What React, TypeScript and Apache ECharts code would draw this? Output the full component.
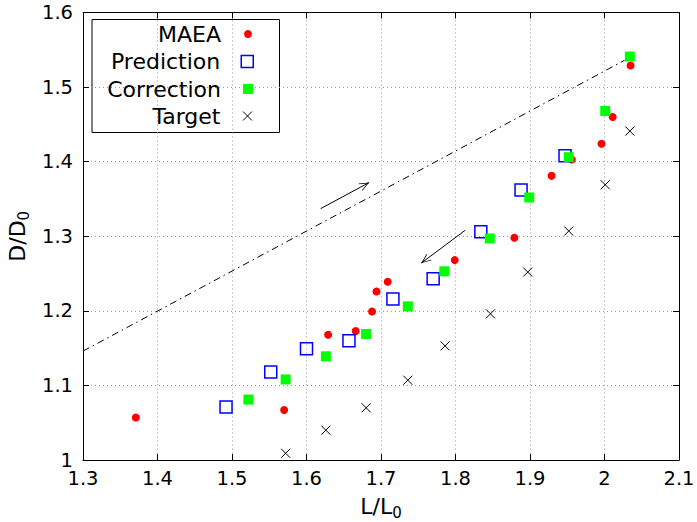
import React, { useEffect, useRef } from "react";
import * as echarts from "echarts";

const maeaX = [1.371, 1.570, 1.629, 1.666, 1.688, 1.694, 1.709, 1.799, 1.879, 1.929, 1.956, 1.996, 2.011, 2.035];
const maeaY = [1.057, 1.067, 1.168, 1.173, 1.199, 1.226, 1.239, 1.268, 1.298, 1.381, 1.403, 1.424, 1.460, 1.529];
const predX = [1.492, 1.552, 1.600, 1.657, 1.716, 1.770, 1.834, 1.888, 1.947];
const predY = [1.071, 1.118, 1.149, 1.160, 1.216, 1.243, 1.306, 1.362, 1.408];
const corrX = [1.522, 1.572, 1.626, 1.680, 1.736, 1.785, 1.846, 1.899, 1.952, 2.001, 2.034];
const corrY = [1.081, 1.108, 1.139, 1.169, 1.206, 1.253, 1.297, 1.352, 1.406, 1.468, 1.541];
const targX = [1.572, 1.626, 1.680, 1.736, 1.786, 1.847, 1.897, 1.952, 2.001, 2.034];
const targY = [1.009, 1.040, 1.070, 1.107, 1.153, 1.196, 1.252, 1.307, 1.369, 1.441];
const guideX = [1.3, 2.027];
const guideY = [1.146, 1.536];
const arrowUpFrom = [1.619, 1.337];
const arrowUpTo = [1.684, 1.372];
const arrowDownFrom = [1.813, 1.308];
const arrowDownTo = [1.754, 1.264];
const xRange = { min: 1.3, max: 2.1, interval: 0.1 };
const yRange = { min: 1.0, max: 1.6, interval: 0.1 };
const seriesNames = ["MAEA", "Prediction", "Correction", "Target"];

const zip = (xs: number[], ys: number[]) => xs.map((x, i) => [x, ys[i]]);

const FONT = "DejaVu Sans";
const CROSS = "path://M0,0L10,10M10,0L0,10";
const CHEVRON = "path://M5,0M5,10L9.4,19.5L8.7,20L5,12L1.3,20L0.6,19.5Z";

export default function App() {
  const ref = useRef<HTMLDivElement>(null);
  useEffect(() => {
    if (!ref.current) return;
    const chart = echarts.init(ref.current, undefined, { renderer: "svg" });
    const fmt = (v: number) => String(+v.toFixed(1));
    const sizes = [8, 12, 10, 9];
    const rowCenters = [34, 61.5, 89, 116];
    const iconCx = 248;
    const textEnd = 221;
    const legendStyles: any[] = [
      { color: "#ff0000" },
      { color: "rgba(0,0,0,0)", borderColor: "#0000ff", borderWidth: 1.5 },
      { color: "#00ff00" },
      { color: "rgba(0,0,0,0)", borderColor: "#000000", borderWidth: 1 },
    ];
    const legendIcons = ["circle", "rect", "rect", CROSS];
    const legends = seriesNames.map((n, i) => {
      const s = sizes[i];
      return {
        data: [{ name: n, icon: legendIcons[i], itemStyle: legendStyles[i] }],
        orient: "vertical",
        align: "right",
        right: 697 - (iconCx + s / 2),
        top: rowCenters[i] - 13,
        itemWidth: s,
        itemHeight: s,
        padding: 0,
        selectedMode: false,
        textStyle: {
          fontFamily: FONT,
          fontSize: 22,
          lineHeight: 26,
          color: "#000",
          padding: [0, iconCx - s / 2 - 5 - textEnd, 0, 0],
        },
      };
    });

    const axisCommon = {
      type: "value",
      axisLine: { show: true, lineStyle: { color: "#000", width: 1 } },
      axisTick: { show: true, inside: true, length: 6, lineStyle: { color: "#000" } },
    };

    const nameStyle = {
      fontFamily: FONT,
      fontSize: 22,
      color: "#000",
      rich: { sub: { fontSize: 15, fontFamily: FONT, color: "#000", padding: [13, 0, 0, 0] } },
    };

    chart.setOption({
      animation: false,
      backgroundColor: "#fff",
      textStyle: { fontFamily: FONT },
      grid: { left: 83, right: 18, top: 12.5, bottom: 62, containLabel: false, outerBoundsMode: "none" },
      legend: legends,
      graphic: [
        {
          type: "rect",
          shape: { x: 92, y: 19.5, width: 187.5, height: 113 },
          style: { fill: "#fff", stroke: "#000", lineWidth: 1 },
          z: 0,
          zlevel: 0,
        },
      ],
      xAxis: [
        {
          ...axisCommon,
          position: "bottom",
          ...xRange,
          axisLabel: { fontFamily: FONT, fontSize: 19.5, color: "#000", margin: 8, formatter: fmt },
          splitLine: { show: true, lineStyle: { color: "#999", type: [1, 3], width: 1 } },
          name: "L/L{sub|0}",
          nameLocation: "middle",
          nameGap: 32,
          nameTextStyle: nameStyle,
        },
        {
          ...axisCommon,
          position: "top",
          ...xRange,
          axisLabel: { show: false },
          splitLine: { show: false },
        },
      ],
      yAxis: [
        {
          ...axisCommon,
          position: "left",
          ...yRange,
          axisLabel: { fontFamily: FONT, fontSize: 19.5, color: "#000", margin: 10, formatter: fmt },
          splitLine: { show: true, lineStyle: { color: "#999", type: [1, 3], width: 1 } },
          name: "D/D{sub|0}",
          nameLocation: "middle",
          nameGap: 50,
          nameTextStyle: nameStyle,
        },
        {
          ...axisCommon,
          position: "right",
          ...yRange,
          axisLabel: { show: false },
          splitLine: { show: false },
        },
      ],
      series: [
        {
          name: "guide",
          type: "line",
          data: zip(guideX, guideY),
          showSymbol: false,
          symbol: "none",
          silent: true,
          lineStyle: { color: "#000", width: 1, type: [7, 4, 1.5, 4] },
          markLine: {
            silent: true,
            symbol: ["none", CHEVRON],
            symbolSize: [8, 20],
            label: { show: false },
            lineStyle: { color: "#000", width: 1, type: "solid" },
            data: [
              [{ coord: arrowUpFrom }, { coord: arrowUpTo }],
              [{ coord: arrowDownFrom }, { coord: arrowDownTo }],
            ],
          },
          z: 1,
        },
        {
          name: "MAEA",
          type: "scatter",
          data: zip(maeaX, maeaY),
          symbol: "circle",
          symbolSize: 8,
          itemStyle: { color: "#ff0000", opacity: 1 },
          z: 2,
        },
        {
          name: "Prediction",
          type: "scatter",
          data: zip(predX, predY),
          symbol: "rect",
          symbolSize: 12,
          itemStyle: { color: "rgba(0,0,0,0)", borderColor: "#0000ff", borderWidth: 1.5, opacity: 1 },
          z: 3,
        },
        {
          name: "Correction",
          type: "scatter",
          data: zip(corrX, corrY),
          symbol: "rect",
          symbolSize: 10,
          itemStyle: { color: "#00ff00", opacity: 1 },
          z: 4,
        },
        {
          name: "Target",
          type: "scatter",
          data: zip(targX, targY),
          symbol: CROSS,
          symbolSize: 9,
          itemStyle: { color: "rgba(0,0,0,0)", borderColor: "#000", borderWidth: 1, opacity: 1 },
          z: 5,
        },
      ],
    });
    return () => chart.dispose();
  }, []);
  return (
    <div
      ref={ref}
      style={{ position: "fixed", left: 0, top: 0, width: 697, height: 522, background: "#fff" }}
    />
  );
}
